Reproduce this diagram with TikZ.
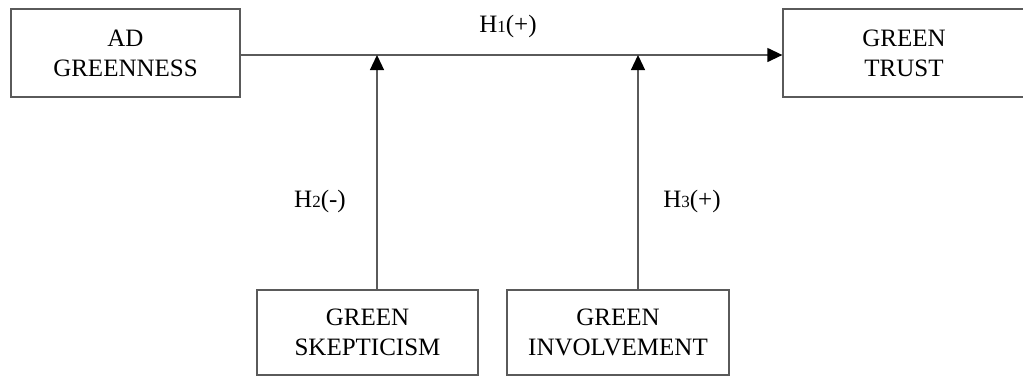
\documentclass[tikz,border=0pt]{standalone}
\usepackage{fontspec}
\setmainfont{Liberation Serif}
\usetikzlibrary{arrows.meta}
\definecolor{linegray}{HTML}{5A5A5A}
\newcommand{\hsub}[1]{\raisebox{-0.5pt}{\fontsize{17}{17}\selectfont #1}}
\tikzset{
  boxnode/.style={draw=linegray, line width=1.3pt, rectangle, inner sep=0pt,
    align=center, font=\fontsize{25}{30}\selectfont},
  conn/.style={draw=linegray, line width=1.3pt, -{Triangle[width=14pt,length=15pt,color=black,fill=black]}},
  hyplabel/.style={font=\fontsize{25}{30}\selectfont, inner sep=0pt, anchor=base}
}
\begin{document}
\begin{tikzpicture}[x=1pt,y=-1pt]
\useasboundingbox (0,0) rectangle (1023,376);
\clip (0,0) rectangle (1023,376);
\node[boxnode, minimum width=229pt, minimum height=88pt] (ad) at (125.5,53) {AD\\GREENNESS};
\node[boxnode, minimum width=242pt, minimum height=88pt] (trust) at (904,53) {GREEN\\TRUST};
\node[boxnode, minimum width=221pt, minimum height=85pt] (skep) at (367.5,332.5) {GREEN\\SKEPTICISM};
\node[boxnode, minimum width=222pt, minimum height=85pt] (inv) at (618,332.5) {GREEN\\INVOLVEMENT};
\coordinate (j1) at (377,55);
\coordinate (j2) at (638,55);
\draw[conn] (ad.east |- j1) -- (trust.west |- j1);
\draw[conn] (skep.north -| j1) -- (j1);
\draw[conn] (inv.north -| j2) -- (j2);
\node[hyplabel] (h1) at (508,32) {H\hsub{1}(+)};
\node[hyplabel] (h2) at (320,207) {H\hsub{2}(-)};
\node[hyplabel] (h3) at (692,207) {H\hsub{3}(+)};
\end{tikzpicture}
\end{document}
